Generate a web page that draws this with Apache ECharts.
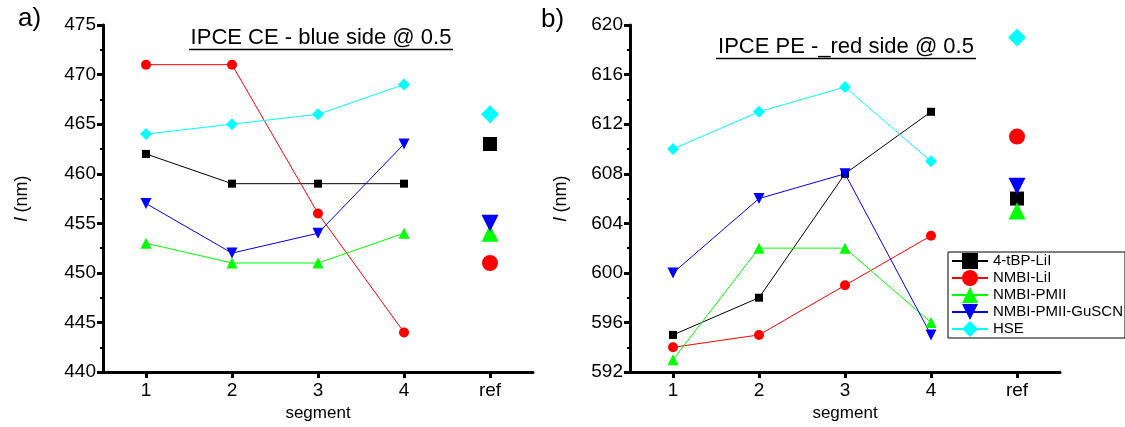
<!DOCTYPE html>
<html>
<head>
<meta charset="utf-8">
<script src="https://cdn.jsdelivr.net/npm/echarts@6/dist/echarts.min.js"></script>
<style>
html,body{margin:0;padding:0;background:#fff;}
#chart{width:1125px;height:427px;}
</style>
</head>
<body>
<div id="chart"></div>
<script>
// Categories (segments + reference)
const categories = ['1', '2', '3', '4', 'ref'];
const seriesNames = ['4-tBP-LiI', 'NMBI-LiI', 'NMBI-PMII', 'NMBI-PMII-GuSCN', 'HSE'];

// Panel a) IPCE CE - blue side @ 0.5 : values for segments 1-4, last value = ref
const ceTBP    = [462, 459, 459, 459, 463];
const ceLiI    = [471, 471, 456, 444, 451];
const cePMII   = [453, 451, 451, 454, 454];
const ceGuSCN  = [457, 452, 454, 463, 455];
const ceHSE    = [464, 465, 466, 469, 466];

// Panel b) IPCE PE - red side @ 0.5
const peTBP    = [595, 598, 608, 613, 606];
const peLiI    = [594, 595, 599, 603, 611];
const pePMII   = [593, 602, 602, 596, 605];
const peGuSCN  = [600, 606, 608, 595, 607];
const peHSE    = [610, 613, 615, 609, 619];

const ceTicks = {min: 440, max: 475, interval: 5};
const peTicks = {min: 592, max: 620, interval: 4};

const colors = ['#000000', '#ff0000', '#00ff00', '#0000ff', '#00ffff'];
const symbols = ['rect', 'circle', 'triangle', 'triangle', 'diamond'];
const rotates = [0, 0, 0, 180, 0];
const smallSizes = [8, 10, 11, 11, 12];
const bigSizes = [14, 16, 17, 17, 18];

const FONT = "'Liberation Sans', Arial, sans-serif";

function buildSeries(panel, arrays) {
  const out = [];
  arrays.forEach((arr, i) => {
    out.push({
      name: seriesNames[i], type: 'line',
      xAxisIndex: panel, yAxisIndex: panel,
      data: arr.slice(0, 4).map((v, k) => [categories[k], v]),
      symbol: symbols[i], symbolRotate: rotates[i], symbolSize: smallSizes[i],
      itemStyle: {color: colors[i]},
      lineStyle: {color: colors[i], width: 1},
      animation: false, z: 3
    });
  });
  arrays.forEach((arr, i) => {
    out.push({
      name: seriesNames[i], type: 'scatter',
      xAxisIndex: panel, yAxisIndex: panel,
      data: [[categories[4], arr[4]]],
      symbol: symbols[i], symbolRotate: rotates[i], symbolSize: bigSizes[i],
      itemStyle: {color: colors[i], opacity: 1},
      animation: false, z: 4
    });
  });
  return out;
}

function xAxisCfg(gridIndex) {
  return {
    type: 'category', gridIndex: gridIndex, data: categories, boundaryGap: true,
    name: 'segment', nameLocation: 'middle', nameGap: 31,
    nameTextStyle: {fontFamily: FONT, fontSize: 17, color: '#000'},
    axisLine: {show: true, lineStyle: {color: '#000', width: 3}},
    axisTick: {show: true, alignWithLabel: true, length: 6, lineStyle: {color: '#000', width: 3}},
    axisLabel: {fontFamily: FONT, fontSize: 19, color: '#000', margin: 9},
    splitLine: {show: false}
  };
}

function yAxisCfg(gridIndex, t, gap) {
  return {
    type: 'value', gridIndex: gridIndex, min: t.min, max: t.max, interval: t.interval,
    name: '{i|l} (nm)', nameLocation: 'middle', nameGap: gap, nameRotate: 90,
    nameTextStyle: {fontFamily: FONT, fontSize: 18, color: '#000',
      rich: {i: {fontFamily: FONT, fontSize: 18, fontStyle: 'italic', color: '#000'}}},
    axisLine: {show: true, lineStyle: {color: '#000', width: 3}},
    axisTick: {show: true, length: 6, lineStyle: {color: '#000', width: 3}},
    minorTick: {show: true, splitNumber: 2, length: 3, lineStyle: {color: '#000', width: 2}},
    axisLabel: {fontFamily: FONT, fontSize: 19, color: '#000', margin: 7},
    splitLine: {show: false}
  };
}

const chart = echarts.init(document.getElementById('chart'), null, {renderer: 'canvas'});
chart.setOption({
  backgroundColor: '#ffffff',
  animation: false,
  grid: [
    {left: 103, top: 25, width: 430, height: 348},
    {left: 630, top: 25, width: 430, height: 348}
  ],
  xAxis: [xAxisCfg(0), xAxisCfg(1)],
  yAxis: [yAxisCfg(0, ceTicks, 72), yAxisCfg(1, peTicks, 60)],
  legend: {
    show: true, orient: 'vertical', left: 948, top: 252,
    data: seriesNames,
    itemWidth: 36, itemHeight: 20, itemGap: 1,
    borderColor: '#000', borderWidth: 1, borderRadius: 0,
    padding: [1, 2, 1, 3],
    textStyle: {fontFamily: FONT, fontSize: 15, color: '#000'},
    selectedMode: false
  },
  graphic: [
    {type: 'text', left: 18, top: 6, style: {text: 'a)', font: '26px ' + FONT, fill: '#000'}},
    {type: 'text', left: 541, top: 7, style: {text: 'b)', font: '26px ' + FONT, fill: '#000'}},
    {type: 'text', x: 321, y: 38, style: {text: 'IPCE CE - blue side @ 0.5', font: '22px ' + FONT, fill: '#000', align: 'center', verticalAlign: 'middle'}},
    {type: 'line', shape: {x1: 189, y1: 49.5, x2: 453, y2: 49.5}, style: {stroke: '#000', lineWidth: 1.5}},
    {type: 'text', x: 846, y: 47, style: {text: 'IPCE PE -_red side @ 0.5', font: '22px ' + FONT, fill: '#000', align: 'center', verticalAlign: 'middle'}},
    {type: 'line', shape: {x1: 716, y1: 58.5, x2: 976, y2: 58.5}, style: {stroke: '#000', lineWidth: 1.5}}
  ],
  series: buildSeries(0, [ceTBP, ceLiI, cePMII, ceGuSCN, ceHSE])
    .concat(buildSeries(1, [peTBP, peLiI, pePMII, peGuSCN, peHSE]))
});
</script>
</body>
</html>
